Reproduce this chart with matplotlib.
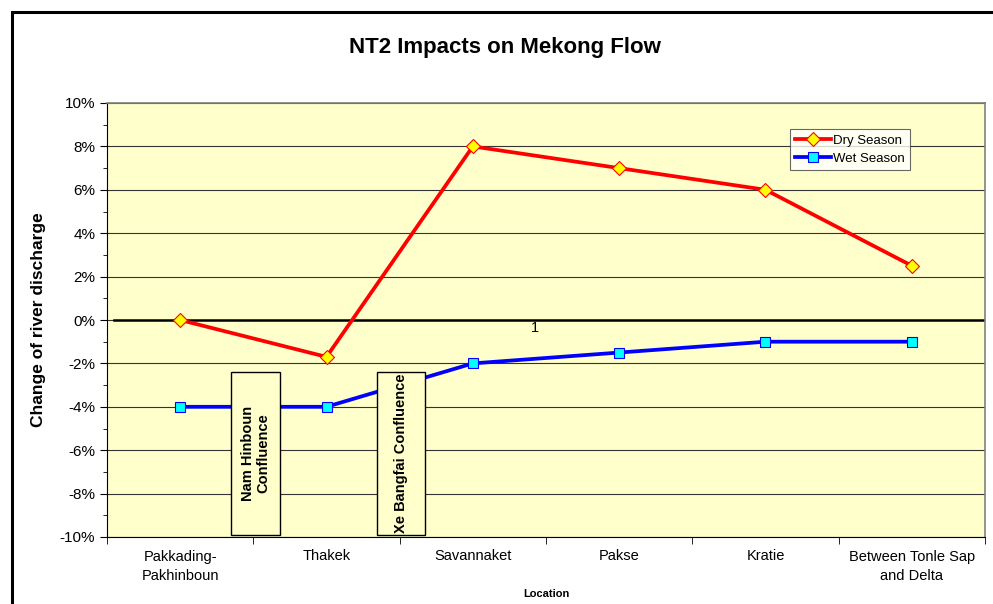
import numpy as np
import matplotlib.pyplot as plt
from matplotlib.patches import Rectangle
from matplotlib.ticker import MultipleLocator, FuncFormatter

locations = ["Pakkading-\nPakhinboun", "Thakek", "Savannaket", "Pakse",
             "Kratie", "Between Tonle Sap\nand Delta"]
dry_season = [0.0, -1.7, 8.0, 7.0, 6.0, 2.5]
wet_season = [-4.0, -4.0, -2.0, -1.5, -1.0, -1.0]
confluences = ["Nam Hinboun\nConfluence", "Xe Bangfai Confluence"]

plt.rcParams['font.family'] = ['Liberation Sans', 'DejaVu Sans']

fig = plt.figure(figsize=(9.93, 6.04), dpi=100)
# outer chart border
fig.patches.append(Rectangle((12/993, -0.1), 1.2, 1 - 12/604 + 0.1,
                             transform=fig.transFigure, fill=False,
                             edgecolor='black', linewidth=2.2, zorder=0))

ax = fig.add_axes([107/993, 1 - 537/604, 878/993, 434/604])
ax.set_facecolor('#FFFFCC')
x = np.arange(len(locations))

ax.set_xlim(-0.5, len(locations) - 0.5)
ax.set_ylim(-10, 10)
ax.yaxis.set_major_locator(MultipleLocator(2))
ax.yaxis.set_minor_locator(MultipleLocator(1))
ax.yaxis.set_major_formatter(FuncFormatter(lambda v, p: f"{v:.0f}%"))
ax.grid(axis='y', which='major', color='#333333', linewidth=0.8)
ax.set_axisbelow(True)

ax.set_xticks(x)
ax.set_xticklabels(locations, fontsize=10.5, linespacing=1.5)
ax.set_xticks(np.arange(-0.5, len(locations)), minor=True)
ax.tick_params(axis='x', which='major', length=0, pad=9)
ax.tick_params(axis='x', which='minor', length=5, direction='out')
ax.tick_params(axis='y', which='major', length=5, labelsize=11)
ax.tick_params(axis='y', which='minor', length=3)

for side in ['top', 'right']:
    ax.spines[side].set_color('#808080')
    ax.spines[side].set_linewidth(1.2)
ax.spines['left'].set_color('black')
ax.spines['bottom'].set_color('black')

ax.axhline(0, xmin=0.008, xmax=1, color='black', linewidth=1.8, zorder=2)
ax.text(2.425, -0.35, "1", fontsize=10.5, ha='center', va='center')

ax.plot(x, dry_season, color='red', linewidth=2.7, marker='D', markersize=7,
        markerfacecolor='#FFFF00', markeredgecolor='red', markeredgewidth=0.8,
        label='Dry Season', zorder=4)
ax.plot(x, wet_season, color='blue', linewidth=2.7, marker='s', markersize=7,
        markerfacecolor='#00FFFF', markeredgecolor='blue', markeredgewidth=0.8,
        label='Wet Season', zorder=4)

# confluence boxes
box_x = [(0.348, 0.683), (1.346, 1.67)]
for (x0, x1), name in zip(box_x, confluences):
    ax.add_patch(Rectangle((x0, -9.9), x1 - x0, 7.5, facecolor='#FFFFCC',
                           edgecolor='black', linewidth=1, zorder=5))
    two_lines = '\n' in name
    ax.text((x0 + x1) / 2, -6.15 if two_lines else -9.8, name,
            rotation=90, ha='center', va='center' if two_lines else 'bottom',
            fontsize=10.5, fontweight='bold', zorder=6, linespacing=1.1)

leg = ax.legend(loc='upper left', bbox_to_anchor=(0.77, 0.955), fontsize=9.5,
                frameon=True, fancybox=False, edgecolor='#444444',
                handlelength=2.7, borderpad=0.4, labelspacing=0.45,
                handletextpad=0.2)
leg.get_frame().set_facecolor('white')
leg.get_frame().set_linewidth(0.8)

ax.set_ylabel("Change of river discharge", fontsize=12.5, fontweight='bold',
              labelpad=10)
ax.set_xlabel("Location", fontsize=8, fontweight='bold', labelpad=4)
fig.text(505/993, 1 - 48/604, "NT2 Impacts on Mekong Flow", fontsize=16,
         fontweight='bold', ha='center', va='center')

fig.savefig('out.png', dpi=100)
